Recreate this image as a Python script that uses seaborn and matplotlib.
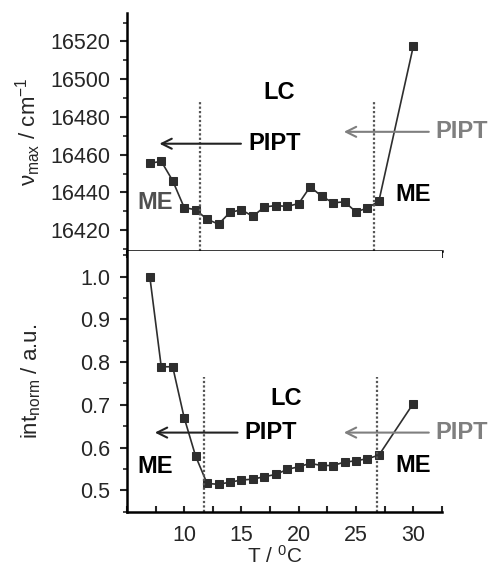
import matplotlib
matplotlib.use("Agg")
import matplotlib.pyplot as plt
import seaborn as sns
import pandas as pd
import numpy as np

# ---- data ----
T = [7, 8, 9, 10, 11, 12, 13, 14, 15, 16, 17, 18, 19, 20, 21, 22, 23, 24, 25, 26, 27, 30]
nu_max = [16455.4, 16456.5, 16446.2, 16432.0, 16430.8, 16425.8, 16423.2, 16429.4,
          16430.8, 16427.3, 16432.3, 16433.0, 16432.6, 16434.1, 16443.0, 16438.0,
          16434.5, 16435.0, 16429.7, 16431.7, 16435.4, 16517.3]
int_norm = [1.0, 0.789, 0.789, 0.670, 0.580, 0.516, 0.514, 0.519, 0.524, 0.526, 0.532,
            0.537, 0.549, 0.555, 0.563, 0.558, 0.558, 0.566, 0.569, 0.574, 0.582, 0.703]
upper_yticks = [16420, 16440, 16460, 16480, 16500, 16520]
lower_yticks = [0.5, 0.6, 0.7, 0.8, 0.9, 1.0]
lower_yticklabels = ["0.5", "0.6", "0.7", "0.8", "0.9", "1.0"]
xticks = [10, 15, 20, 25, 30]
transitions_upper = [11.4, 26.55]
transitions_lower = [11.7, 26.8]

df = pd.DataFrame({"T": T, "nu": nu_max, "inten": int_norm})

sns.set_style("ticks")
plt.rcParams["font.family"] = ["Liberation Sans", "DejaVu Sans"]
plt.rcParams["mathtext.fontset"] = "custom"
plt.rcParams["mathtext.rm"] = "Liberation Sans"
plt.rcParams["mathtext.it"] = "Liberation Sans:italic"
plt.rcParams["mathtext.bf"] = "Liberation Sans:bold"

fig = plt.figure(figsize=(4.88, 5.69), dpi=100)
ax1 = fig.add_axes([0.26, 0.559, 0.6455, 0.418])
ax2 = fig.add_axes([0.26, 0.100, 0.6455, 0.459])

dark = "#2e2e2e"
gray = "#7f7f7f"
kw = dict(marker="s", markersize=6.4, color=dark, linewidth=1.2,
          markeredgecolor=dark, markerfacecolor=dark)
sns.lineplot(data=df, x="T", y="nu", ax=ax1, **kw)
sns.lineplot(data=df, x="T", y="inten", ax=ax2, **kw)

for ax in (ax1, ax2):
    ax.set_xlim(5, 32.5)
    for s in ("top", "right"):
        ax.spines[s].set_visible(False)
    for s in ("left", "bottom"):
        ax.spines[s].set_linewidth(1.8)
        ax.spines[s].set_color("black")
    ax.set_xlabel("")

ax1.set_ylim(16409, 16535)
ax1.set_yticks(upper_yticks)
ax1.set_yticks(np.arange(16410, 16535, 10), minor=True)
ax1.set_xticks(xticks)
ax1.set_xticks(np.arange(5, 33, 2.5), minor=True)
ax1.tick_params(axis="x", which="both", direction="out", length=5, width=1.5, labelbottom=False)
ax1.tick_params(axis="y", which="major", direction="out", length=5, width=1.5, labelsize=15.5, pad=7)
ax1.tick_params(axis="y", which="minor", direction="out", length=3, width=1.2)
ax1.set_ylabel("ν$_{\\mathrm{max}}$ / cm$^{-1}$", fontsize=16)
ax1.yaxis.set_label_coords(-0.265, 0.5)

ax2.set_ylim(0.449, 1.06)
ax2.set_yticks(lower_yticks)
ax2.set_yticklabels(lower_yticklabels)
ax2.set_yticks(np.arange(0.45, 1.06, 0.05), minor=True)
ax2.set_xticks(xticks)
ax2.set_xticks(np.arange(5, 33, 2.5), minor=True)
ax2.tick_params(axis="x", which="both", direction="in", length=4, width=1.5, labelsize=15.5, pad=9)
ax2.tick_params(axis="y", which="major", direction="out", length=5, width=1.5, labelsize=15.5, pad=7)
ax2.tick_params(axis="y", which="minor", direction="out", length=3, width=1.2)
ax2.set_ylabel("int$_{\\mathrm{norm}}$ / a.u.", fontsize=16)
ax2.yaxis.set_label_coords(-0.265, 0.5)
ax2.set_xlabel("T / $^{0}$C", fontsize=15)
ax2.xaxis.set_label_coords(0.47, -0.126)

# transition lines
for x in transitions_upper:
    ax1.plot([x, x], [16409, 16489], linestyle=(0, (1, 1)), color="#555555", linewidth=1.6)
for x in transitions_lower:
    ax2.plot([x, x], [0.449, 0.766], linestyle=(0, (1, 1)), color="#555555", linewidth=1.6)

tkw = dict(fontsize=17, fontweight="bold", va="center")
ap_black = dict(arrowstyle="->", color="#222222", lw=1.5, mutation_scale=18)
ap_gray = dict(arrowstyle="->", color=gray, lw=1.5, mutation_scale=18)

# upper annotations
ax1.annotate("", xy=(7.6, 16465.8), xytext=(15.2, 16465.8), arrowprops=ap_black)
ax1.text(15.6, 16465.8, "PIPT", color="black", ha="left", **tkw)
ax1.annotate("", xy=(23.7, 16472.1), xytext=(31.6, 16472.1), arrowprops=ap_gray)
ax1.text(31.9, 16472.1, "PIPT", color=gray, ha="left", clip_on=False, **tkw)
ax1.text(18.3, 16492.7, "LC", color="black", ha="center", **tkw)
ax1.text(7.5, 16434.8, "ME", color="#505050", ha="center", **tkw)
ax1.text(30.0, 16439.0, "ME", color="black", ha="center", **tkw)

# lower annotations
ax2.annotate("", xy=(7.2, 0.635), xytext=(14.9, 0.635), arrowprops=ap_black)
ax2.text(15.3, 0.635, "PIPT", color="black", ha="left", **tkw)
ax2.annotate("", xy=(23.7, 0.635), xytext=(31.6, 0.635), arrowprops=ap_gray)
ax2.text(31.9, 0.635, "PIPT", color=gray, ha="left", clip_on=False, **tkw)
ax2.text(18.9, 0.715, "LC", color="black", ha="center", **tkw)
ax2.text(7.5, 0.555, "ME", color="black", ha="center", **tkw)
ax2.text(30.0, 0.559, "ME", color="black", ha="center", **tkw)

fig.savefig("out.png", dpi=100)
